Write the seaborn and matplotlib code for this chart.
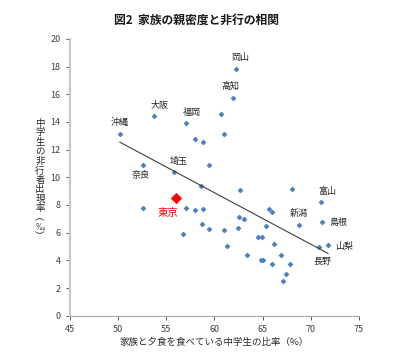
import numpy as np
import pandas as pd
import matplotlib
matplotlib.use("Agg")
import matplotlib.pyplot as plt
import seaborn as sns

# 家族と夕食を食べている中学生の比率(%) / 中学生の非行者出現率(‰)
x_rate = [50.2, 53.8, 57.1, 58.0, 58.8, 60.7, 61.0, 59.5, 55.8, 52.6,
          58.6, 62.2, 61.9, 62.7, 68.1, 52.6, 57.1, 58.0, 58.8, 58.7,
          59.5, 56.8, 61.0, 61.3, 71.1, 65.7, 66.0, 62.6, 63.1, 68.8,
          71.2, 62.5, 65.4, 64.5, 64.9, 66.2, 71.8, 70.9, 63.4, 66.9,
          64.8, 65.1, 67.8, 66.0, 67.4, 67.1]
y_rate = [13.15, 14.45, 13.9, 12.75, 12.55, 14.55, 13.15, 10.85, 10.4, 10.9,
          9.4, 17.8, 15.7, 9.05, 9.15, 7.8, 7.8, 7.65, 7.7, 6.6,
          6.25, 5.9, 6.2, 5.05, 8.2, 7.7, 7.5, 7.15, 6.95, 6.55,
          6.75, 6.3, 6.45, 5.7, 5.7, 5.2, 5.1, 4.95, 4.4, 4.35,
          4.0, 4.05, 3.75, 3.7, 3.0, 2.5]

tokyo_x = [56.0]
tokyo_y = [8.5]

# 名前の付いた県
label_names = ["沖縄", "大阪", "福岡", "埼玉", "奈良", "岡山", "高知",
               "富山", "新潟", "島根", "山梨", "長野"]
label_x = [50.2, 53.8, 57.1, 55.8, 52.6, 62.2, 61.9, 71.1, 68.8, 71.2, 71.8, 70.9]
label_y = [13.15, 14.45, 13.9, 10.4, 10.9, 17.8, 15.7, 8.2, 6.55, 6.75, 5.1, 4.95]
label_dx = [0, 5, 6, 5, -2, 5, -2, 6, 0, 16, 16, 3]
label_dy = [11, 10, 11, 10, -11, 12, 12, 11, 12, 0, -1, -14]

df = pd.DataFrame({"x": x_rate, "y": y_rate})

sns.set_style("white")
plt.rcParams["font.family"] = ["Noto Sans CJK JP", "DejaVu Sans"]

fig = plt.figure(figsize=(4.17, 3.53), dpi=100)
ax = fig.add_axes([0.1667, 0.1057, 0.6943, 0.7843])

blue = "#4a7ebb"
sns.regplot(data=df, x="x", y="y", scatter=False, ci=None, ax=ax,
            line_kws={"color": "#404040", "lw": 0.8})
sns.scatterplot(data=df, x="x", y="y", ax=ax, marker="D", s=7,
                color=blue, edgecolor=blue, linewidth=0.3)
sns.scatterplot(x=tokyo_x, y=tokyo_y, ax=ax, marker="D", s=30,
                color="#ff0000", edgecolor="#ff0000", linewidth=0.3)

for name, lx, ly, dx, dy in zip(label_names, label_x, label_y, label_dx, label_dy):
    ax.annotate(name, (lx, ly), xytext=(dx, dy), textcoords="offset pixels",
                ha="center", va="center", fontsize=6.5, color="#262626")
ax.annotate("東京", (tokyo_x[0], tokyo_y[0]), xytext=(-8, -15),
            textcoords="offset pixels", ha="center", va="center",
            fontsize=7.5, color="#ff0000")

ax.set_xlim(45, 75)
ax.set_ylim(0, 20)
ax.set_xticks(range(45, 76, 5))
ax.set_yticks(range(0, 21, 2))
ax.tick_params(axis="both", labelsize=6.5, colors="#404040", length=3,
               width=0.6, direction="out", bottom=True, left=True)
for sp in ["top", "right"]:
    ax.spines[sp].set_visible(False)
ax.spines["left"].set_color("#c8c8c8")
ax.spines["left"].set_linewidth(1.5)
ax.spines["bottom"].set_color("#a6a6a6")
ax.spines["bottom"].set_linewidth(0.8)

ax.set_xlabel("家族と夕食を食べている中学生の比率（%）", fontsize=6.8,
              color="#262626", labelpad=3)
ax.set_ylabel("")
ylab = "\n".join(list("中学生の非行者出現率") + ["︵", "‰", "︶"])
fig.text(40 / 417, 1 - 180 / 353, ylab, ha="center", va="center",
         fontsize=6.8, color="#262626", linespacing=1.05, rotation=0)

fig.text(197 / 417, 1 - 20 / 353, "図2  家族の親密度と非行の相関",
         ha="center", va="center", fontsize=8.5, fontweight="bold",
         color="#1a1a1a")

fig.savefig("out.png", dpi=100)
